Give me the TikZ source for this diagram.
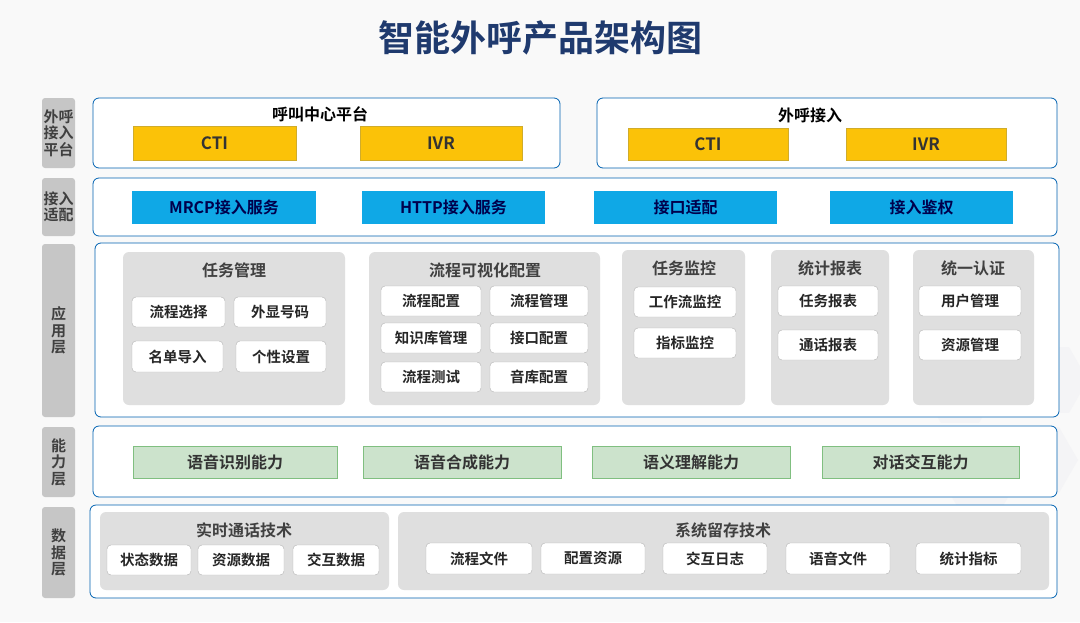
\documentclass[tikz,border=0pt]{standalone}
\usepackage{fontspec}
\setmainfont{Noto Sans CJK SC}[BoldFont={Noto Sans CJK SC Bold}]
\definecolor{cyb}{HTML}{0FA8E6}
\definecolor{ttl}{HTML}{1F3A6E}
\begin{document}
\newcommand\B[7][]{\node[#1,minimum width={(#5-#3)*1pt},minimum height={(#6-#4)*1pt},inner sep=0pt] (#2) at ({(#3+#5)/2},{(#4+#6)/2}) {#7};}
\begin{tikzpicture}[x=1pt,y=-1pt,
 font=\bfseries,
 lab/.style={fill=gray!45,rounded corners=3pt,text=black!75,font=\bfseries\fontsize{15}{16.5}\selectfont,align=center},
 frame/.style={draw=blue!45!cyan!70!black,fill=white,rounded corners=6pt,line width=0.8pt},
 grp/.style={fill=gray!25,rounded corners=6pt},
 gt/.style={text=black!75,font=\bfseries\fontsize{16}{18}\selectfont},
 yel/.style={fill=yellow!55!orange,draw=yellow!60!orange!80!black,text=black!80,font=\bfseries\fontsize{17}{18}\selectfont},
 cy/.style={fill=cyb,text=black!70!blue,font=\bfseries\fontsize{16}{18}\selectfont},
 gr/.style={fill=green!45!black!20!white,draw=green!50!black!50,text=black!80,font=\bfseries\fontsize{16}{18}\selectfont},
 it/.style={fill=white,draw=gray!60,rounded corners=4pt,text=black!85,font=\bfseries\fontsize{14.5}{16}\selectfont}]
\useasboundingbox (0,0) rectangle (1080,622);
\begin{scope}
\clip (0,0) rectangle (1080,622);
\fill[blue!2!gray!5] (0,0) rectangle (1080,622);
\foreach \cx/\cy in {1000/300,1050/380,960/390,1040/460,980/480}{
 \fill[blue!10!gray!8] (\cx,\cy)+(0:38)--+(60:38)--+(120:38)--+(180:38)--+(240:38)--+(300:38)--cycle;}
\end{scope}
\node[text=ttl,font=\bfseries\fontsize{36}{40}\selectfont] (title) at (540,38) {智能外呼产品架构图};
% labels
\B[lab]{l1}{42}{98}{75}{168}{外呼\\接入\\平台}
\B[lab]{l2}{42}{178}{75}{236}{接入\\适配}
\B[lab]{l3}{42}{244}{75}{417}{应\\用\\层}
\B[lab]{l4}{42}{427}{75}{497}{能\\力\\层}
\B[lab]{l5}{42}{507}{75}{598}{数\\据\\层}
% row 1
\B[frame]{f1a}{93}{98}{560}{168}{}
\B[frame]{f1b}{597}{98}{1057}{168}{}
\node[gt,text=black] (t1a) at (320,114) {呼叫中心平台};
\node[gt,text=black] (t1b) at (810,115) {外呼接入};
\B[yel]{cti1}{133}{126}{296}{160}{CTI}
\B[yel]{ivr1}{360}{126}{522}{160}{IVR}
\B[yel]{cti2}{628}{128}{788}{160}{CTI}
\B[yel]{ivr2}{846}{128}{1006}{160}{IVR}
% row 2
\B[frame]{f2}{93}{178}{1057}{236}{}
\B[cy]{mrcp}{132}{191}{316}{224}{MRCP接入服务}
\B[cy]{http}{362}{191}{545}{224}{HTTP接入服务}
\B[cy]{jk}{594}{191}{777}{224}{接口适配}
\B[cy]{jq}{830}{191}{1013}{224}{接入鉴权}
% row 3
\B[frame]{f3}{95}{243}{1059}{417}{}
\B[grp]{g1}{123}{252}{345}{405}{}
\node[gt] (g1t) at (234,270) {任务管理};
\B[it]{a1}{132}{297}{225}{327}{流程选择}
\B[it]{a2}{234}{297}{326}{327}{外显号码}
\B[it]{a3}{132}{341}{223}{372}{名单导入}
\B[it]{a4}{236}{341}{326}{372}{个性设置}
\B[grp]{g2}{369}{252}{600}{405}{}
\node[gt] (g2t) at (485,270) {流程可视化配置};
\B[it]{b1}{381}{286}{481}{316}{流程配置}
\B[it]{b2}{490}{286}{588}{316}{流程管理}
\B[it]{b3}{381}{323}{481}{353}{知识库管理}
\B[it]{b4}{490}{323}{588}{353}{接口配置}
\B[it]{b5}{381}{362}{481}{392}{流程测试}
\B[it]{b6}{490}{362}{588}{392}{音库配置}
\B[grp]{g3}{622}{250}{745}{405}{}
\node[gt] (g3t) at (684,268) {任务监控};
\B[it]{c1}{634}{287}{736}{317}{工作流监控}
\B[it]{c2}{634}{328}{736}{358}{指标监控}
\B[grp]{g4}{771}{250}{889}{405}{}
\node[gt] (g4t) at (830,268) {统计报表};
\B[it]{d1}{778}{286}{878}{316}{任务报表}
\B[it]{d2}{778}{330}{878}{360}{通话报表}
\B[grp]{g5}{913}{250}{1034}{405}{}
\node[gt] (g5t) at (973,268) {统一认证};
\B[it]{e1}{919}{286}{1021}{316}{用户管理}
\B[it]{e2}{919}{330}{1021}{360}{资源管理}
% row 4
\B[frame]{f4}{93}{426}{1057}{497}{}
\B[gr]{s1}{133}{446}{337}{478}{语音识别能力}
\B[gr]{s2}{363}{446}{561}{478}{语音合成能力}
\B[gr]{s3}{592}{446}{790}{478}{语义理解能力}
\B[gr]{s4}{822}{446}{1019}{478}{对话交互能力}
% row 5
\B[frame]{f5}{90}{505}{1057}{598}{}
\B[grp]{h1}{100}{512}{389}{590}{}
\node[gt] (h1t) at (244,530) {实时通话技术};
\B[it]{p1}{107}{545}{191}{575}{状态数据}
\B[it]{p2}{198}{545}{284}{575}{资源数据}
\B[it]{p3}{293}{545}{379}{575}{交互数据}
\B[grp]{h2}{398}{512}{1049}{590}{}
\node[gt] (h2t) at (723,530) {系统留存技术};
\B[it]{q1}{426}{543}{532}{574}{流程文件}
\B[it]{q2}{541}{543}{645}{574}{配置资源}
\B[it]{q3}{663}{543}{767}{574}{交互日志}
\B[it]{q4}{786}{543}{890}{574}{语音文件}
\B[it]{q5}{916}{543}{1021}{574}{统计指标}
\end{tikzpicture}
\end{document}
